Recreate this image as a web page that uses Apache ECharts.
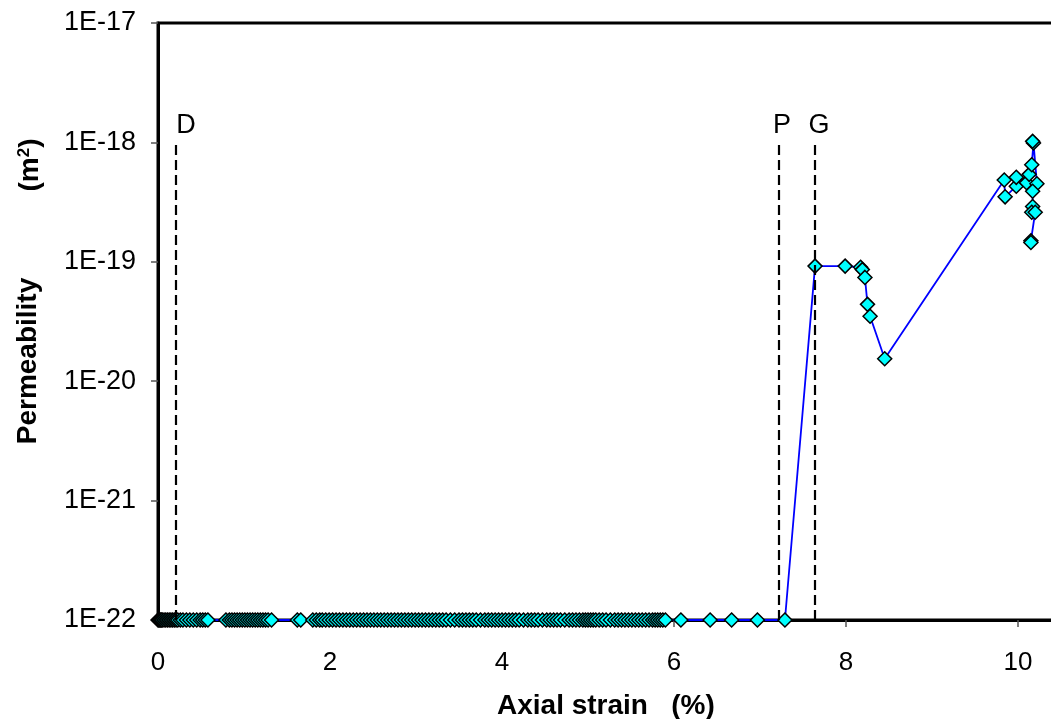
<!DOCTYPE html>
<html>
<head>
<meta charset="utf-8">
<script src="https://cdn.jsdelivr.net/npm/echarts@6/dist/echarts.min.js"></script>
<style>
  html, body { margin: 0; padding: 0; background: #fff; }
  #chart { width: 1051px; height: 719px; }
</style>
</head>
<body>
<div id="chart"></div>
<script>
// Axial strain (%) of the readings sitting at the permeability floor
var floorStrain = [
  0.00, 0.01, 0.02, 0.03, 0.04, 0.05, 0.07, 0.09, 0.11, 0.13, 0.15, 0.17, 0.19, 0.21,
  0.23, 0.26, 0.29, 0.33, 0.37, 0.41, 0.45, 0.49, 0.52, 0.55, 0.58,
  0.79, 0.83, 0.86, 0.89, 0.92, 0.95, 0.98, 1.01, 1.04, 1.07, 1.10, 1.13, 1.16, 1.19,
  1.22, 1.25, 1.28, 1.32,
  1.62, 1.66,
  1.80, 1.84, 1.88, 1.91, 1.95, 1.99, 2.03, 2.07, 2.11, 2.15, 2.19, 2.23, 2.27, 2.31,
  2.35, 2.39, 2.43, 2.47, 2.51, 2.55, 2.59, 2.63, 2.67, 2.71, 2.75, 2.79, 2.83, 2.87,
  2.91, 2.95, 2.99, 3.03, 3.07, 3.11, 3.15, 3.19, 3.23, 3.27, 3.31, 3.35, 3.40, 3.45,
  3.50, 3.54, 3.58, 3.62, 3.66, 3.70, 3.75, 3.80, 3.84, 3.88, 3.92, 3.96, 4.00, 4.04,
  4.08, 4.12, 4.16, 4.20, 4.25, 4.30, 4.34, 4.38, 4.42, 4.47, 4.52, 4.56, 4.60, 4.64,
  4.68, 4.73, 4.78, 4.82, 4.86, 4.90, 4.94, 4.97, 5.00, 5.03, 5.06, 5.09, 5.13, 5.17,
  5.21, 5.26, 5.31, 5.35, 5.39, 5.43, 5.47, 5.51, 5.55, 5.59, 5.63, 5.67, 5.71, 5.75,
  5.78, 5.81, 5.84, 5.87, 5.90,
  6.08, 6.42, 6.67, 6.97, 7.29
];
// Permeability floor (m²) for those readings
var floorPerm = 1e-22;

// Readings after gas breakthrough: strain (%) and permeability (m²)
var flowStrain = [
  7.64, 7.99, 8.17, 8.19, 8.22, 8.25, 8.28, 8.45,
  9.84, 9.85, 9.98, 9.98, 10.10, 10.13, 10.16, 10.18, 10.17,
  10.22, 10.17, 10.17, 10.16, 10.20, 10.15, 10.15
];
var flowPerm = [
  9.2e-20, 9.2e-20, 9.0e-20, 8.6e-20, 7.4e-20, 4.4e-20, 3.5e-20, 1.54e-20,
  4.84e-19, 3.5e-19, 4.3e-19, 5.1e-19, 4.6e-19, 5.4e-19, 6.5e-19, 9.9e-19, 1.02e-18,
  4.5e-19, 3.9e-19, 2.9e-19, 2.6e-19, 2.6e-19, 1.5e-19, 1.45e-19
];

// Stage markers (strain, %)
var stageNames = ['D', 'P', 'G'];
var stageStrain = [0.21, 7.22, 7.64];
var stageLabelShift = [10, 3, 4];

var xTicks = [0, 2, 4, 6, 8, 10];
// Decade ticks on the permeability axis
var yTicks = [1e-22, 1e-21, 1e-20, 1e-19, 1e-18, 1e-17];
var yTickLabels = ['1E-22', '1E-21', '1E-20', '1E-19', '1E-18', '1E-17'];

var FONT = '"Liberation Sans", Arial, sans-serif';

var points = floorStrain.map(function (s) { return [s, floorPerm]; })
  .concat(flowStrain.map(function (s, i) { return [s, flowPerm[i]]; }));

var stageLines = stageStrain.map(function (s) {
  return [{ coord: [s, 1e-22] }, { coord: [s, 1e-18] }];
});

function yLabel(v) {
  var e = Math.round(Math.log10(v));
  for (var i = 0; i < yTicks.length; i++) {
    if (Math.round(Math.log10(yTicks[i])) === e) return yTickLabels[i];
  }
  return '';
}

var chart = echarts.init(document.getElementById('chart'), null, { renderer: 'canvas' });

chart.setOption({
  animation: false,
  backgroundColor: '#fff',
  grid: {
    left: 158, top: 23, width: 1032, height: 597,
    show: true, borderColor: '#000', borderWidth: 3,
    containLabel: false, outerBoundsMode: 'none'
  },
  xAxis: {
    type: 'value', min: 0, max: 12, interval: 2,
    axisLine: { show: true, onZero: false, lineStyle: { color: '#000', width: 3 } },
    axisTick: { show: true, inside: false, length: 7, lineStyle: { color: '#555', width: 1.5 } },
    splitLine: { show: false },
    axisLabel: {
      margin: 30, fontSize: 26, color: '#000', fontFamily: FONT,
      hideOverlap: false, showMinLabel: true,
      formatter: function (v) { return xTicks.indexOf(v) >= 0 ? String(v) : ''; }
    }
  },
  yAxis: {
    type: 'log', logBase: 10, min: 1e-22, max: 1e-17,
    axisLine: { show: true, lineStyle: { color: '#000', width: 3 } },
    axisTick: {
      show: true, inside: false, length: 7, customValues: yTicks,
      lineStyle: { color: '#555', width: 1.5 }
    },
    splitLine: { show: false },
    minorTick: { show: false },
    axisLabel: {
      margin: 22, fontSize: 27, color: '#000', fontFamily: FONT,
      hideOverlap: false, showMinLabel: true, showMaxLabel: true,
      customValues: yTicks,
      formatter: yLabel
    }
  },
  series: [{
    type: 'line',
    data: points,
    clip: false,
    symbol: 'diamond',
    symbolSize: 14,
    lineStyle: { color: '#0000ff', width: 1.8 },
    itemStyle: { color: '#00ffff', borderColor: '#000', borderWidth: 1.5 },
    z: 3,
    markLine: {
      silent: true,
      symbol: 'none',
      animation: false,
      label: { show: false },
      lineStyle: { color: '#000', width: 2.2, type: [10, 5] },
      data: stageLines
    }
  }]
});

// Stage letters above the dashed markers, plus the axis titles
function placeTexts() {
  var texts = stageNames.map(function (name, i) {
    var p = chart.convertToPixel({ gridIndex: 0 }, [stageStrain[i], 1e-18]);
    return {
      type: 'text',
      x: p[0] + stageLabelShift[i],
      y: p[1] - 3,
      style: {
        text: name, fontSize: 27, fontFamily: FONT, fill: '#000',
        textAlign: 'center', textVerticalAlign: 'bottom'
      }
    };
  });
  texts.push({
    type: 'text', x: 497, y: 706,
    style: {
      text: 'Axial strain   (%)', fontSize: 28, fontWeight: 'bold', fontFamily: FONT,
      fill: '#000', textAlign: 'left', textVerticalAlign: 'middle'
    }
  });
  texts.push({
    type: 'text', x: 28, y: 361, rotation: Math.PI / 2,
    style: {
      text: 'Permeability', fontSize: 28, fontWeight: 'bold', fontFamily: FONT,
      fill: '#000', textAlign: 'center', textVerticalAlign: 'middle'
    }
  });
  texts.push({
    type: 'text', x: 30, y: 165, rotation: Math.PI / 2,
    style: {
      text: '(m{sup|2})', fontSize: 28, fontWeight: 'bold', fontFamily: FONT,
      fill: '#000', textAlign: 'center', textVerticalAlign: 'middle',
      rich: {
        sup: { fontSize: 17, fontWeight: 'bold', fontFamily: FONT, verticalAlign: 'top', padding: [0, 0, 10, 0] }
      }
    }
  });
  chart.setOption({ graphic: texts });
}
placeTexts();
</script>
</body>
</html>
